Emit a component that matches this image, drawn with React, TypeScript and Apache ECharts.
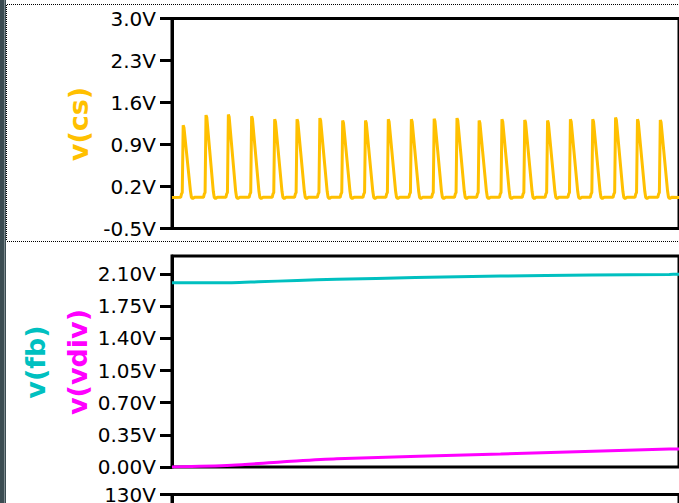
import React, { useEffect, useRef } from "react";
import * as echarts from "echarts";

// time axis in microseconds
const X_MAX = 222.2;

// v(cs): read pulse peak times (µs) and peak values (V)
const csPeakTimes = [4.9, 14.9, 24.7, 34.9, 45.0, 54.8, 64.8, 74.8, 84.8, 94.8, 104.9, 114.9, 124.9, 134.6, 144.6, 154.6, 164.6, 174.6, 184.4, 194.4, 204.0, 214.0];
const csPeakValues = [1.22, 1.39, 1.40, 1.37, 1.32, 1.32, 1.34, 1.30, 1.30, 1.32, 1.32, 1.33, 1.34, 1.30, 1.32, 1.31, 1.30, 1.32, 1.32, 1.35, 1.32, 1.31];
// pulse shape: offsets from peak time, and values (null = the peak value minus pulseTopDrop)
const pulseDt = [-1.1, -0.7, -0.4, 0, 0.35, 3.2, 3.6, 4.2, 5.0];
const pulseV: (number | null)[] = [0.02, 0.08, 0.10, null, null, 0.12, 0.02, 0.0, 0.02];
const pulseTopDrop = [0, 0, 0, 0, 0.04, 0, 0, 0, 0];
const csBaseline = 0.015;

// v(fb)
const fbTimes = [0, 26.2, 37.8, 55, 72.2, 106.6, 144, 183.9, 217.9, 222.2];
const fbValues = [2.005, 2.006, 2.015, 2.03, 2.042, 2.062, 2.078, 2.09, 2.096, 2.097];

// v(vdiv)
const vdivTimes = [0, 26.2, 47.7, 72.2, 144, 217.9, 222.2];
const vdivValues = [0.0, 0.02, 0.054, 0.09, 0.141, 0.195, 0.196];

// tick labels
const csTicks = [-0.5, 0.2, 0.9, 1.6, 2.3, 3.0];
const fbTicks = [0, 0.35, 0.7, 1.05, 1.4, 1.75, 2.1];
const thirdTicks = [130];

export default function App() {
  const ref = useRef<HTMLDivElement>(null);
  useEffect(() => {
    if (!ref.current) return;
    const chart = echarts.init(ref.current, null, { renderer: "svg" });

    const csData: number[][] = [[0, csBaseline]];
    csPeakTimes.forEach((tp, i) => {
      pulseDt.forEach((dt, j) => {
        const v = pulseV[j];
        csData.push([tp + dt, v === null ? csPeakValues[i] - pulseTopDrop[j] : v]);
      });
    });
    csData.push([X_MAX, csBaseline]);

    const fbData = fbTimes.map((t, i) => [t, fbValues[i]]);
    const vdivData = vdivTimes.map((t, i) => [t, vdivValues[i]]);

    const gridBase = {
      left: 172,
      right: -10,
      show: true,
      borderColor: "#000",
      borderWidth: 3,
      backgroundColor: "transparent",
    };
    const xAx = (gi: number) => ({
      type: "value",
      gridIndex: gi,
      min: 0,
      max: X_MAX,
      show: true,
      axisLine: { show: false },
      axisTick: { show: false },
      axisLabel: { show: false },
      splitLine: { show: false },
    });
    const yAx = (gi: number, min: number, max: number, ticks: number[], digits: number) => ({
      type: "value",
      gridIndex: gi,
      min,
      max,
      axisLine: { show: true, lineStyle: { color: "#000", width: 3 } },
      axisTick: {
        show: true,
        inside: false,
        length: 12,
        lineStyle: { color: "#000", width: 3 },
        customValues: ticks,
      },
      axisLabel: {
        fontFamily: "DejaVu Sans",
        fontSize: 20,
        color: "#000",
        margin: 16,
        customValues: ticks,
        formatter: (v: number) => v.toFixed(digits) + "V",
      },
      splitLine: { show: false },
    });

    const dotted = { stroke: "#000", lineWidth: 1, lineDash: [1, 1] };

    chart.setOption({
      animation: false,
      backgroundColor: "#fff",
      grid: [
        { ...gridBase, top: 18.5, height: 210 },
        { ...gridBase, top: 256, height: 211 },
        { ...gridBase, top: 494.5, height: 200 },
      ],
      xAxis: [xAx(0), xAx(1), xAx(2)],
      yAxis: [
        yAx(0, -0.5, 3.0, csTicks, 1),
        yAx(1, 0, 2.296, fbTicks, 2),
        yAx(2, 0, 130, thirdTicks, 0),
      ],
      series: [
        {
          name: "v(cs)",
          type: "line",
          xAxisIndex: 0,
          yAxisIndex: 0,
          data: csData,
          showSymbol: false,
          lineStyle: { color: "#FFC000", width: 3 },
          clip: true,
        },
        {
          name: "v(fb)",
          type: "line",
          xAxisIndex: 1,
          yAxisIndex: 1,
          data: fbData,
          smooth: 0.3,
          showSymbol: false,
          lineStyle: { color: "#00C0C0", width: 3 },
        },
        {
          name: "v(vdiv)",
          type: "line",
          xAxisIndex: 1,
          yAxisIndex: 1,
          data: vdivData,
          smooth: 0.3,
          showSymbol: false,
          lineStyle: { color: "#FF00FF", width: 3 },
        },
      ],
      graphic: [
        { type: "rect", shape: { x: 0, y: 0, width: 6, height: 503 }, style: { fill: "#3b4c52" }, silent: true },
        { type: "line", shape: { x1: 4.5, y1: 0, x2: 4.5, y2: 503 }, style: { stroke: "#7d8a8e", lineWidth: 1 }, silent: true },
        { type: "line", shape: { x1: 7, y1: 4.5, x2: 679, y2: 4.5 }, style: dotted, silent: true },
        { type: "line", shape: { x1: 6.5, y1: 5, x2: 6.5, y2: 241 }, style: dotted, silent: true },
        { type: "line", shape: { x1: 7, y1: 241.5, x2: 679, y2: 241.5 }, style: dotted, silent: true },
        {
          type: "text",
          x: 78,
          y: 124,
          rotation: Math.PI / 2,
          style: { text: "v(cs)", fill: "#FFC000", font: 'bold 27px "DejaVu Sans"', align: "center", verticalAlign: "middle" },
        },
        {
          type: "text",
          x: 35,
          y: 362,
          rotation: Math.PI / 2,
          style: { text: "v(fb)", fill: "#00C0C0", font: 'bold 27px "DejaVu Sans"', align: "center", verticalAlign: "middle" },
        },
        {
          type: "text",
          x: 77,
          y: 362,
          rotation: Math.PI / 2,
          style: { text: "v(vdiv)", fill: "#FF00FF", font: 'bold 27px "DejaVu Sans"', align: "center", verticalAlign: "middle" },
        },
      ],
    });
    return () => chart.dispose();
  }, []);
  return (
    <div
      ref={ref}
      style={{ position: "fixed", left: 0, top: 0, width: 679, height: 503, background: "#fff" }}
    />
  );
}
